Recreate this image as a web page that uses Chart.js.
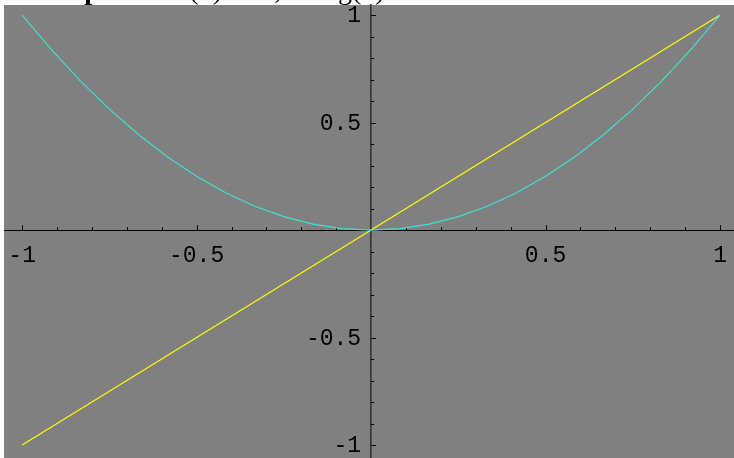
<!DOCTYPE html>
<html>
<head>
<meta charset="utf-8">
<script src="https://cdn.jsdelivr.net/npm/chart.js@4.4.1/dist/chart.umd.min.js"></script>
<style>
  html, body { margin: 0; padding: 0; background: #fff; }
  #wrap { width: 734px; height: 458px; }
</style>
</head>
<body>
<div id="wrap"><canvas id="plot"></canvas></div>
<script>
// muestras de la curva f(x) = x^2
const fX = [-1, -0.9167, -0.8333, -0.75, -0.6667, -0.5833, -0.5, -0.4167, -0.3333, -0.25, -0.1667, -0.0833,
            0, 0.0833, 0.1667, 0.25, 0.3333, 0.4167, 0.5, 0.5833, 0.6667, 0.75, 0.8333, 0.9167, 1];
const fY = [1, 0.8403, 0.6944, 0.5625, 0.4444, 0.3403, 0.25, 0.1736, 0.1111, 0.0625, 0.0278, 0.0069,
            0, 0.0069, 0.0278, 0.0625, 0.1111, 0.1736, 0.25, 0.3403, 0.4444, 0.5625, 0.6944, 0.8403, 1];
// recta g(x) = x
const gX = [-1, 1];
const gY = [-1, 1];

// marcas de los ejes
const majorTicks = [-1, -0.5, 0.5, 1];
const minorTicks = [-0.9, -0.8, -0.7, -0.6, -0.4, -0.3, -0.2, -0.1, 0.1, 0.2, 0.3, 0.4, 0.6, 0.7, 0.8, 0.9];
const yTickLabels = ['-1', '-0.5', '0.5', '1'];

// título (sólo asoma la parte de abajo)
const titleParts = [
  { text: 'Graphs', bold: true, x: 36 },
  { text: 'f(x) = x²,', bold: false, x: 180 },
  { text: 'g(x) = x', bold: false, x: 338 }
];

const toPoints = (xs, ys) => xs.map((x, i) => ({ x: x, y: ys[i] }));
const monoFont = '"Liberation Mono", "DejaVu Sans Mono", monospace';

// fondo blanco, título y zona gris
const fondo = {
  id: 'fondo',
  beforeDraw(chart) {
    const { ctx, chartArea: a } = chart;
    ctx.save();
    ctx.fillStyle = '#ffffff';
    ctx.fillRect(0, 0, chart.width, chart.height);
    ctx.fillStyle = '#000';
    ctx.textBaseline = 'alphabetic';
    titleParts.forEach(p => {
      ctx.font = (p.bold ? 'bold ' : '') + '28px "Liberation Serif", "Times New Roman", serif';
      ctx.fillText(p.text, p.x, -1);
    });
    ctx.fillStyle = '#808080';
    ctx.fillRect(a.left, a.top, a.right - a.left, a.bottom - a.top);
    ctx.restore();
  }
};

// marcas pequeñas y grandes sobre los ejes + etiquetas del eje y
const marcas = {
  id: 'marcas',
  beforeDatasetsDraw(chart) {
    const { ctx, scales: { x, y } } = chart;
    const x0 = x.getPixelForValue(0);
    const y0 = y.getPixelForValue(0);
    ctx.save();
    ctx.strokeStyle = '#000';
    ctx.lineWidth = 1;
    ctx.beginPath();
    majorTicks.forEach(v => {
      const px = Math.round(x.getPixelForValue(v)) + 0.5;
      ctx.moveTo(px, y0); ctx.lineTo(px, y0 - 5);
      const py = Math.round(y.getPixelForValue(v)) + 0.5;
      ctx.moveTo(x0, py); ctx.lineTo(x0 + 5, py);
    });
    minorTicks.forEach(v => {
      const px = Math.round(x.getPixelForValue(v)) + 0.5;
      ctx.moveTo(px, y0); ctx.lineTo(px, y0 - 3);
      const py = Math.round(y.getPixelForValue(v)) + 0.5;
      ctx.moveTo(x0, py); ctx.lineTo(x0 + 3, py);
    });
    ctx.stroke();

    ctx.fillStyle = '#000';
    ctx.font = '23px ' + monoFont;
    ctx.textAlign = 'right';
    ctx.textBaseline = 'middle';
    majorTicks.forEach((v, i) => {
      ctx.fillText(yTickLabels[i], x0 - 10, y.getPixelForValue(v) + 1);
    });
    ctx.restore();
  }
};

const sinPadding = s => { s.paddingTop = 0; s.paddingBottom = 0; s.paddingLeft = 0; s.paddingRight = 0; };

new Chart(document.getElementById('plot'), {
  type: 'scatter',
  data: {
    datasets: [
      {
        label: 'f(x)',
        data: toPoints(fX, fY),
        showLine: true,
        borderColor: '#40e0d0',
        borderWidth: 1.2,
        pointRadius: 0,
        tension: 0
      },
      {
        label: 'g(x)',
        data: toPoints(gX, gY),
        showLine: true,
        borderColor: '#ffff00',
        borderWidth: 1.2,
        pointRadius: 0,
        tension: 0
      }
    ]
  },
  options: {
    responsive: true,
    maintainAspectRatio: false,
    animation: false,
    layout: { padding: { left: 4, top: 5, right: 0, bottom: 0 } },
    plugins: {
      legend: { display: false },
      tooltip: { enabled: false }
    },
    scales: {
      x: {
        type: 'linear',
        position: { y: 0 },
        min: -1.052,
        max: 1.04,
        afterBuildTicks: s => { s.ticks = majorTicks.map(v => ({ value: v })); },
        afterFit: sinPadding,
        grid: { display: false, drawTicks: false },
        border: { display: true, color: '#000', width: 1 },
        ticks: {
          autoSkip: false,
          maxRotation: 0,
          padding: 12,
          color: '#000',
          font: { family: monoFont, size: 23 },
          callback: v => String(v)
        }
      },
      y: {
        type: 'linear',
        position: { x: 0 },
        min: -1.06,
        max: 1.047,
        afterBuildTicks: s => { s.ticks = majorTicks.map(v => ({ value: v })); },
        afterFit: sinPadding,
        grid: { display: false, drawTicks: false },
        border: { display: true, color: '#333', width: 1.6 },
        ticks: { display: false }
      }
    }
  },
  plugins: [fondo, marcas]
});
</script>
</body>
</html>
